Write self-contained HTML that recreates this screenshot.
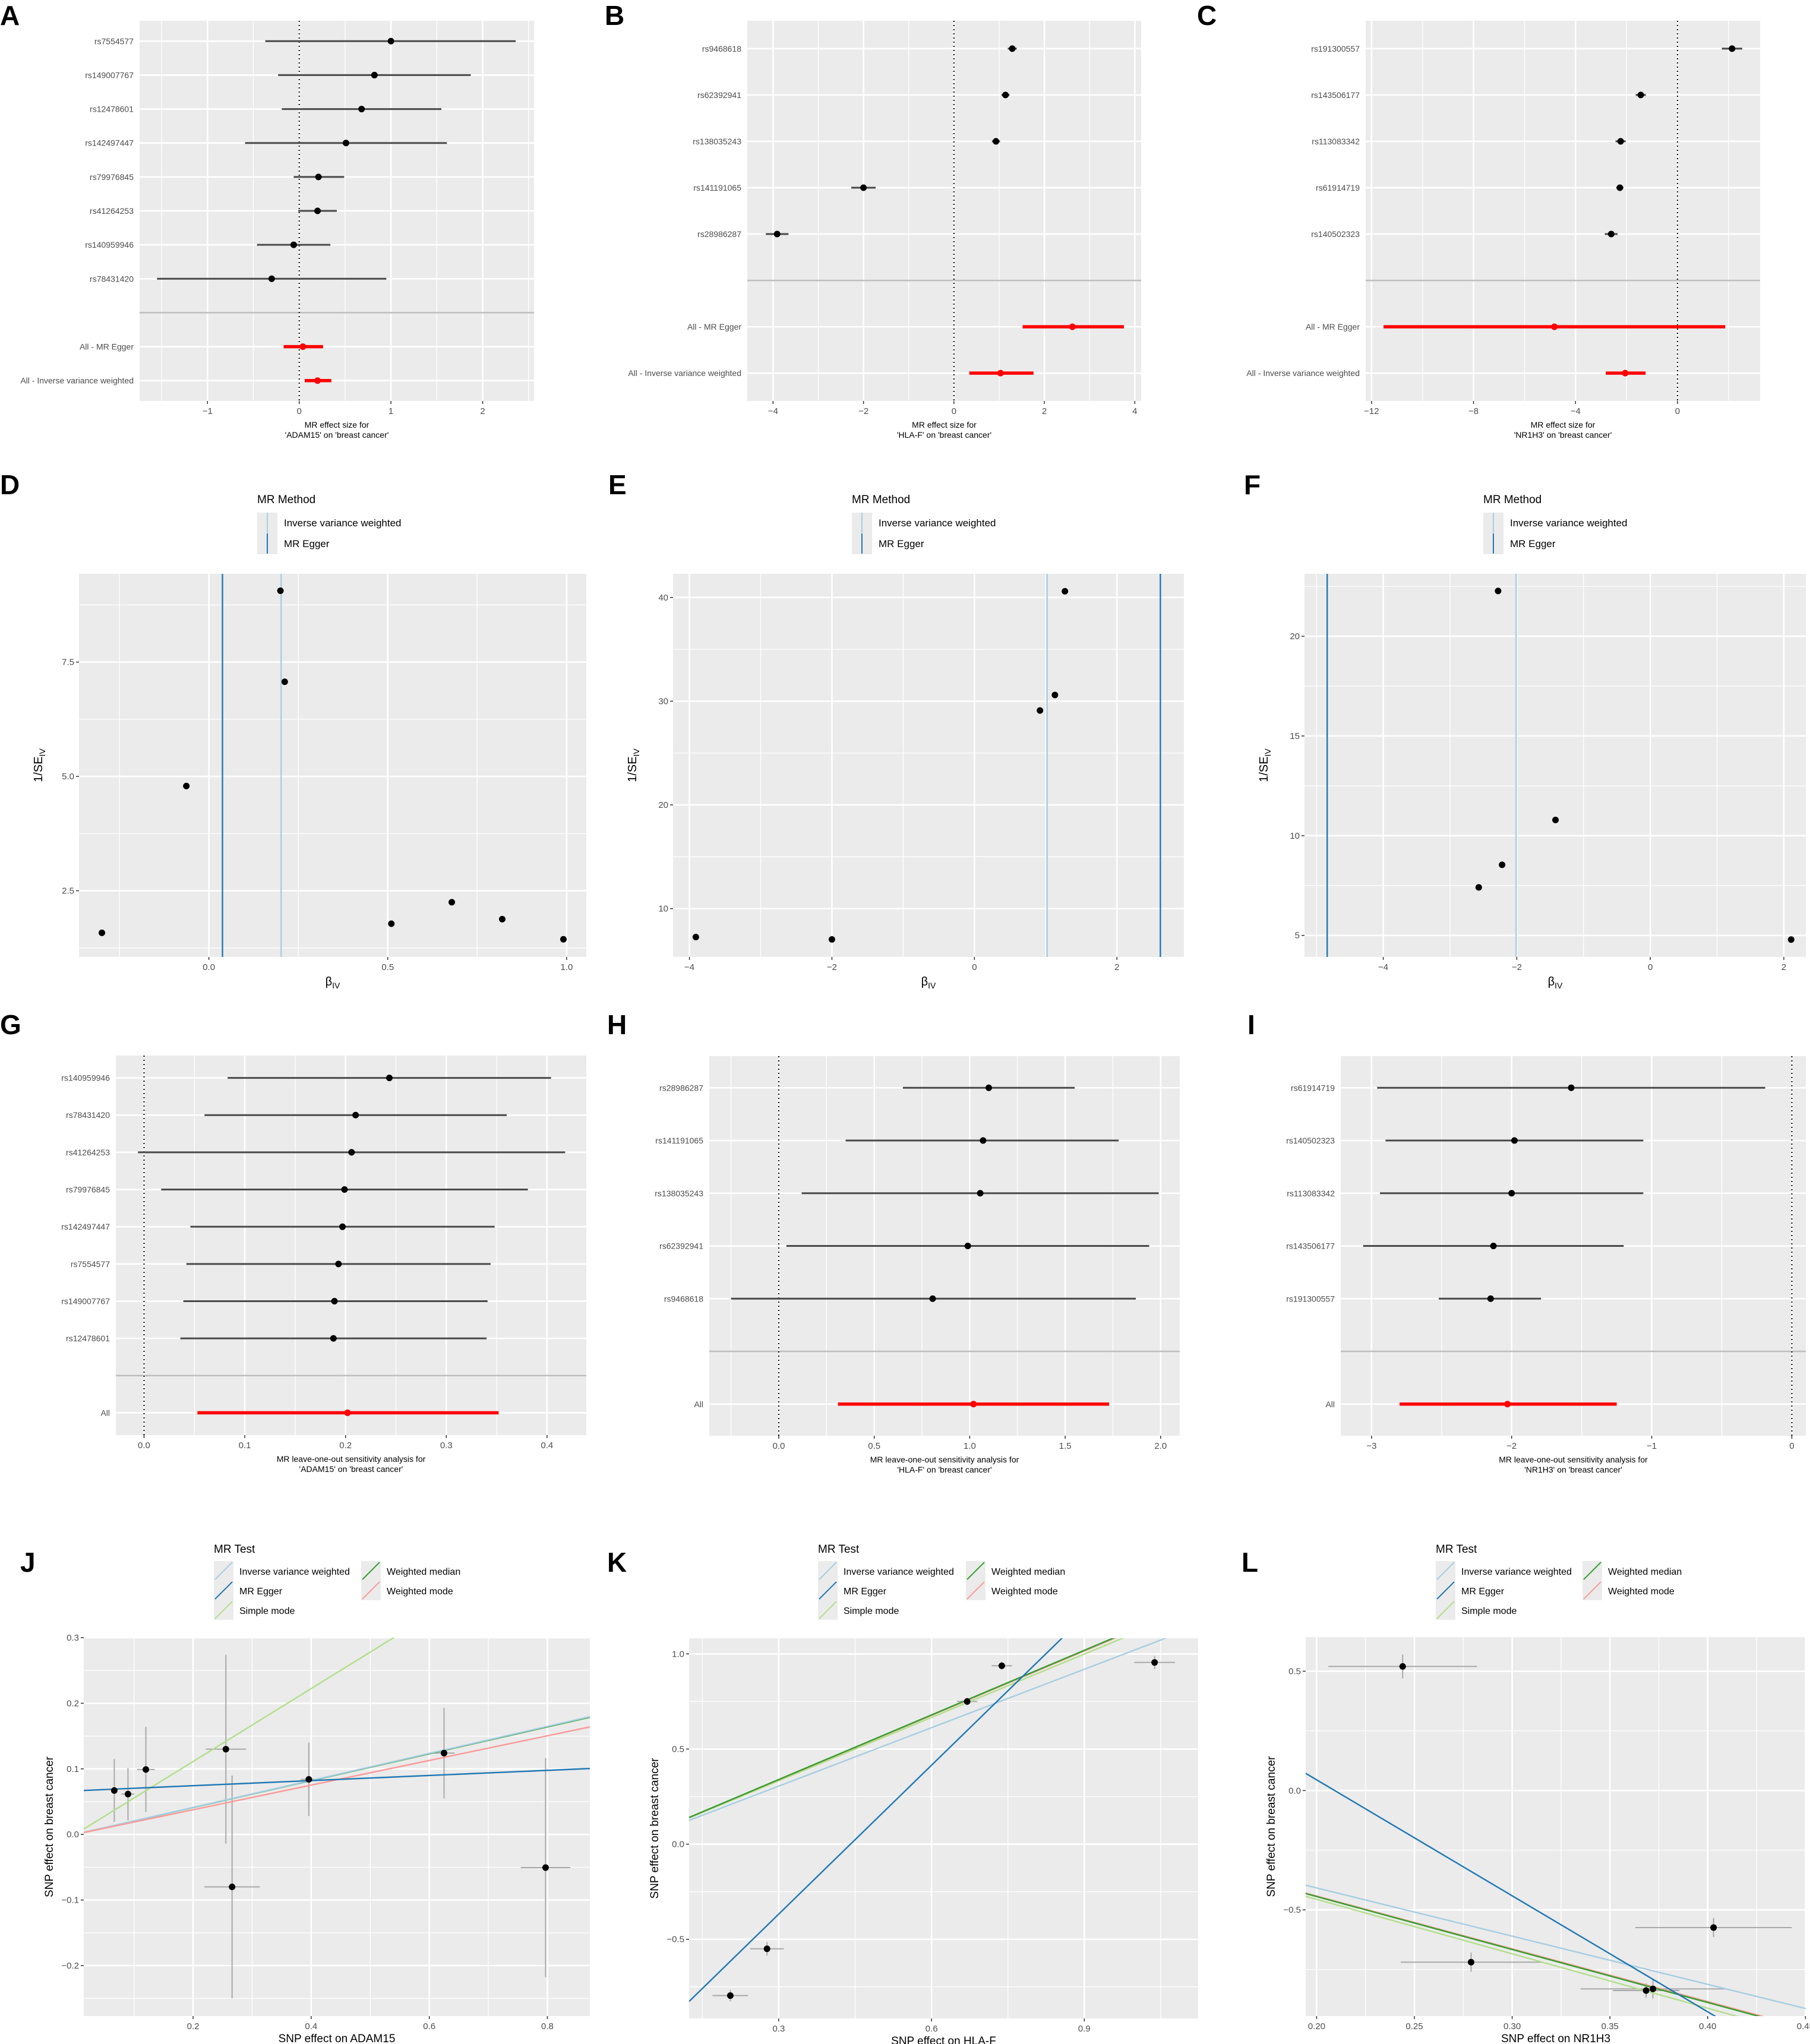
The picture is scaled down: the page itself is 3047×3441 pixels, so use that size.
<!DOCTYPE html>
<html><head><meta charset="utf-8"><style>
html,body{margin:0;padding:0;background:#fff;}
svg{display:block;font-family:"Liberation Sans",Arial,sans-serif;}
</style></head><body>
<svg id="fig" xmlns="http://www.w3.org/2000/svg" width="3047" height="3441" viewBox="0 0 3047 3441"></svg>
<script>
// ===== Panel A (forest, ADAM15) =====
const A_snps=["rs7554577","rs149007767","rs12478601","rs142497447","rs79976845","rs41264253","rs140959946","rs78431420"];
const A_est=[1.0,0.82,0.68,0.51,0.21,0.20,-0.06,-0.30];
const A_lo=[-0.37,-0.23,-0.19,-0.59,-0.06,-0.01,-0.46,-1.55];
const A_hi=[2.36,1.87,1.55,1.61,0.49,0.41,0.34,0.95];
const A_sumLabels=["All - MR Egger","All - Inverse variance weighted"];
const A_sumEst=[0.04,0.20];
const A_sumLo=[-0.17,0.06];
const A_sumHi=[0.26,0.35];
const A_ticks=[-1,0,1,2];
// ===== Panel B (forest, HLA-F) =====
const B_snps=["rs9468618","rs62392941","rs138035243","rs141191065","rs28986287"];
const B_est=[1.29,1.14,0.93,-2.0,-3.91];
const B_lo=[1.19,1.05,0.84,-2.27,-4.16];
const B_hi=[1.39,1.23,1.02,-1.73,-3.66];
const B_sumLabels=["All - MR Egger","All - Inverse variance weighted"];
const B_sumEst=[2.62,1.03];
const B_sumLo=[1.52,0.34];
const B_sumHi=[3.76,1.76];
const B_ticks=[-4,-2,0,2,4];
// ===== Panel C (forest, NR1H3) =====
const C_snps=["rs191300557","rs143506177","rs113083342","rs61914719","rs140502323"];
const C_est=[2.14,-1.44,-2.23,-2.26,-2.6];
const C_lo=[1.74,-1.64,-2.43,-2.4,-2.85];
const C_hi=[2.54,-1.24,-2.03,-2.12,-2.35];
const C_sumLabels=["All - MR Egger","All - Inverse variance weighted"];
const C_sumEst=[-4.83,-2.05];
const C_sumLo=[-11.53,-2.81];
const C_sumHi=[1.87,-1.25];
const C_ticks=[-12,-8,-4,0];
// ===== Panels D/E/F (funnel) =====
const D_beta=[-0.299,-0.063,0.20,0.212,0.51,0.679,0.82,0.991];
const D_invse=[1.58,4.79,9.06,7.07,1.78,2.25,1.88,1.44];
const D_lines=[0.202,0.038]; // IVW, Egger
const D_xticks=[0.0,0.5,1.0];
const D_yticks=[2.5,5.0,7.5];
const E_beta=[-3.91,-2.0,0.92,1.13,1.27];
const E_invse=[7.26,7.03,29.1,30.6,40.6];
const E_lines=[1.02,2.61];
const E_xticks=[-4,-2,0,2];
const E_yticks=[10,20,30,40];
const F_beta=[-2.28,-1.42,-2.22,-2.57,2.11];
const F_invse=[22.27,10.79,8.54,7.41,4.79];
const F_lines=[-2.01,-4.84];
const F_xticks=[-4,-2,0,2];
const F_yticks=[5,10,15,20];
// ===== Panels G/H/I (leave-one-out) =====
const G_snps=["rs140959946","rs78431420","rs41264253","rs79976845","rs142497447","rs7554577","rs149007767","rs12478601"];
const G_est=[0.2435,0.21,0.206,0.199,0.197,0.193,0.189,0.188];
const G_lo=[0.083,0.06,-0.006,0.017,0.046,0.042,0.039,0.036];
const G_hi=[0.404,0.36,0.418,0.381,0.348,0.344,0.341,0.340];
const G_all=[0.202,0.053,0.352];
const G_ticks=[0.0,0.1,0.2,0.3,0.4];
const H_snps=["rs28986287","rs141191065","rs138035243","rs62392941","rs9468618"];
const H_est=[1.10,1.07,1.055,0.99,0.806];
const H_lo=[0.65,0.35,0.12,0.04,-0.25];
const H_hi=[1.55,1.78,1.99,1.94,1.87];
const H_all=[1.02,0.31,1.73];
const H_ticks=[0.0,0.5,1.0,1.5,2.0];
const I_snps=["rs61914719","rs140502323","rs113083342","rs143506177","rs191300557"];
const I_est=[-1.575,-1.98,-2.00,-2.13,-2.15];
const I_lo=[-2.96,-2.90,-2.94,-3.06,-2.52];
const I_hi=[-0.19,-1.06,-1.06,-1.20,-1.79];
const I_all=[-2.03,-2.80,-1.25];
const I_ticks=[-3,-2,-1,0];
// ===== Panels J/K/L (scatter) =====
const methods=["Inverse variance weighted","MR Egger","Simple mode","Weighted median","Weighted mode"];
const J_bx=[0.0665,0.0897,0.12,0.2555,0.266,0.396,0.625,0.797];
const J_by=[0.067,0.0615,0.099,0.13,-0.080,0.084,0.124,-0.0506];
const J_bxse=[0.005,0.011,0.015,0.034,0.047,0.014,0.018,0.042];
const J_byse=[0.048,0.04,0.065,0.144,0.17,0.056,0.069,0.167];
const J_intercept=[0,0.0665,0,0,0];
const J_slope=[0.206,0.039,0.556,0.205,0.188];
const J_xticks=[0.2,0.4,0.6,0.8];
const J_yticks=[-0.2,-0.1,0.0,0.1,0.2,0.3];
const K_bx=[0.205,0.277,0.67,0.738,1.038];
const K_by=[-0.796,-0.55,0.75,0.9375,0.955];
const K_bxse=[0.035,0.033,0.02,0.02,0.04];
const K_byse=[0.03,0.035,0.02,0.02,0.035];
const K_intercept=[-0.002,-1.150,0,0,0];
const K_slope=[1.0235,2.608,1.11,1.132,1.128];
const K_xticks=[0.3,0.6,0.9];
const K_yticks=[-0.5,0.0,0.5,1.0];
const L_bx=[0.244,0.279,0.403,0.372,0.3685];
const L_by=[0.52,-0.719,-0.574,-0.831,-0.838];
const L_bxse=[0.038,0.036,0.04,0.037,0.017];
const L_byse=[0.05,0.04,0.04,0.04,0.03];
const L_intercept=[-0.004,1.017,0,0,0];
const L_slope=[-2.02,-4.86,-2.28,-2.22,-2.21];
const L_xticks=[0.20,0.25,0.30,0.35,0.40,0.45];
const L_yticks=[-0.5,0.0,0.5];

const NS="http://www.w3.org/2000/svg";
const svg=document.getElementById('fig');
const METHOD_COLORS=["#A6CEE3","#1F78B4","#B2DF8A","#33A02C","#FB9A99"];
function el(tag,attrs,parent,text){const e=document.createElementNS(NS,tag);for(const k in attrs)e.setAttribute(k,attrs[k]);if(text!==undefined)e.textContent=text;(parent||svg).appendChild(e);return e;}
function scale(d0,d1,r0,r1){return v=>r0+(v-d0)/(d1-d0)*(r1-r0);}
function fmt(v,dec){return (v<0?"\u2212":"")+Math.abs(v).toFixed(dec);}
function group(name){const g=el('g',{},svg);


return g;}
function panelLabel(t,x,y){const e=el('text',{x:x,y:y,'font-size':46,'font-weight':'bold',fill:'#000'},svg,t);

}
function bg(g,b){const r=el('rect',{x:b.x0,y:b.y0,width:b.x1-b.x0,height:b.y1-b.y0,fill:'#EBEBEB'},g);

}
function vgrid(g,b,sx,ticks,minor){
  minor.forEach(v=>{const x=sx(v);if(x>b.x0&&x<b.x1)el('line',{x1:x,x2:x,y1:b.y0,y2:b.y1,stroke:'#fff','stroke-width':1.3},g);});
  ticks.forEach(v=>{const x=sx(v);el('line',{x1:x,x2:x,y1:b.y0,y2:b.y1,stroke:'#fff','stroke-width':2.6},g);});
}
function hgrid(g,b,sy,ticks,minor){
  minor.forEach(v=>{const y=sy(v);if(y>b.y0&&y<b.y1)el('line',{x1:b.x0,x2:b.x1,y1:y,y2:y,stroke:'#fff','stroke-width':1.3},g);});
  ticks.forEach(v=>{const y=sy(v);el('line',{x1:b.x0,x2:b.x1,y1:y,y2:y,stroke:'#fff','stroke-width':2.6},g);});
}
function xTickLabels(g,b,sx,ticks,dec,fs){
  ticks.forEach(v=>{const x=sx(v);el('line',{x1:x,x2:x,y1:b.y1,y2:b.y1+5,stroke:'#333','stroke-width':1.5},g);
  const t=el('text',{x:x,y:b.y1+22,'font-size':fs||15,fill:'#4D4D4D','text-anchor':'middle'},g,fmt(v,dec));
  
  });
}
function yTickLabels(g,b,sy,ticks,dec,fs){
  ticks.forEach(v=>{const y=sy(v);el('line',{x1:b.x0-5,x2:b.x0,y1:y,y2:y,stroke:'#333','stroke-width':1.5},g);
  const t=el('text',{x:b.x0-8,y:y+5,'font-size':fs||15,fill:'#4D4D4D','text-anchor':'end'},g,fmt(v,dec));
  
  });
}
function minorOf(ticks,lo,hi){const st=ticks[1]-ticks[0];const out=[];for(let v=ticks[0]-st/2;v<=hi+1e-9;v+=st){if(v>=lo-1e-9)out.push(v);}return out;}

function forest(name,b,dom,ticks,dec,snps,est,lo,hi,sumLabels,sumEst,sumLo,sumHi,title1,title2){
  const g=group(name);
  const n=snps.length+1+sumLabels.length;
  const step=(b.y1-b.y0)/(n-1+1.2);
  const sy=i=>b.y0+(i+0.6)*step;
  const sx=scale(dom[0],dom[1],b.x0,b.x1);
  bg(g,b);
  vgrid(g,b,sx,ticks,minorOf(ticks,dom[0],dom[1]));
  const rowsAll=snps.length;
  for(let i=0;i<n;i++){if(i!==rowsAll)el('line',{x1:b.x0,x2:b.x1,y1:sy(i),y2:sy(i),stroke:'#fff','stroke-width':2.6},g);}
  el('line',{x1:b.x0,x2:b.x1,y1:sy(rowsAll),y2:sy(rowsAll),stroke:'#BEBEBE','stroke-width':2.5},g);
  el('line',{x1:sx(0),x2:sx(0),y1:b.y0,y2:b.y1,stroke:'#000','stroke-width':2,'stroke-dasharray':'2,5'},g);
  snps.forEach((s,i)=>{
    const y=sy(i);
    const l=el('line',{x1:sx(lo[i]),x2:sx(hi[i]),y1:y,y2:y,stroke:'#4a4a4a','stroke-width':3},g);
    
    
    const c=el('circle',{cx:sx(est[i]),cy:y,r:5.5,fill:'#000'},g);
    
    
    const t=el('text',{x:b.x0-10,y:y+5,'font-size':14,fill:'#4D4D4D','text-anchor':'end'},g,s);
    
    
  });
  sumLabels.forEach((s,j)=>{
    const y=sy(rowsAll+1+j);
    const l=el('line',{x1:sx(sumLo[j]),x2:sx(sumHi[j]),y1:y,y2:y,stroke:'#FF0000','stroke-width':5.5},g);
    
    
    const c=el('circle',{cx:sx(sumEst[j]),cy:y,r:5.5,fill:'#FF0000'},g);
    
    
    const t=el('text',{x:b.x0-10,y:y+5,'font-size':14,fill:'#4D4D4D','text-anchor':'end'},g,s);
    
    
  });
  xTickLabels(g,b,sx,ticks,dec);
  const cx=(b.x0+b.x1)/2;
  const t1=el('text',{x:cx,y:b.y1+45,'font-size':14,fill:'#000','text-anchor':'middle'},g,title1);
  
  
  const t2=el('text',{x:cx,y:b.y1+62,'font-size':14,fill:'#000','text-anchor':'middle'},g,title2);
  
  
}

function funnel(name,b,xd,yd,xticks,yticks,xdec,ydec,beta,invse,lines,legX){
  const g=group(name);
  const sx=scale(xd[0],xd[1],b.x0,b.x1), sy=scale(yd[0],yd[1],b.y1,b.y0);
  bg(g,b);
  vgrid(g,b,sx,xticks,minorOf(xticks,xd[0],xd[1]));
  hgrid(g,b,sy,yticks,minorOf(yticks,yd[0],yd[1]));
  lines.forEach((v,i)=>{const l=el('line',{x1:sx(v),x2:sx(v),y1:b.y0,y2:b.y1,stroke:METHOD_COLORS[i],'stroke-width':2.4},g);
    
    });
  beta.forEach((v,i)=>{const c=el('circle',{cx:sx(v),cy:sy(invse[i]),r:5.5,fill:'#000'},g);
    
    });
  xTickLabels(g,b,sx,xticks,xdec);
  yTickLabels(g,b,sy,yticks,ydec);
  const xt=el('text',{x:(b.x0+b.x1)/2,y:b.y1+48,'font-size':20,fill:'#000','text-anchor':'middle'},g);
  
  
  el('tspan',{},xt,'\u03B2');el('tspan',{dy:5,'font-size':14},xt,'IV');
  const cy=(b.y0+b.y1)/2, lx=b.x0-62;
  const yt=el('text',{x:lx,y:cy,'font-size':20,fill:'#000','text-anchor':'middle',transform:`rotate(-90 ${lx} ${cy})`},g);
  
  
  el('tspan',{},yt,'1/SE');el('tspan',{dy:5,'font-size':14},yt,'IV');
  const lg=el('g',{},g);
  
  
  el('text',{x:legX,y:b.y0-119,'font-size':19,fill:'#000'},lg,'MR Method');
  ['Inverse variance weighted','MR Egger'].forEach((m,i)=>{
    const yc=b.y0-86+i*35;
    el('rect',{x:legX,y:yc-17,width:34,height:35,fill:'#EBEBEB'},lg);
    el('line',{x1:legX+17,x2:legX+17,y1:yc-17,y2:yc+17,stroke:METHOD_COLORS[i],'stroke-width':2},lg);
    const t=el('text',{x:legX+45,y:yc+6,'font-size':17,fill:'#000'},lg,m);
    
    
  });
}

function loo(name,b,dom,ticks,dec,snps,est,lo,hi,all,title2){
  forest(name,b,dom,ticks,dec,snps,est,lo,hi,["All"],[all[0]],[all[1]],[all[2]],"MR leave-one-out sensitivity analysis for",title2);
}

function scatter(name,b,xd,yd,xticks,yticks,xdec,ydec,bx,by,bxse,byse,ints,slopes,xtitle,legX,legX2,order){
  const g=group(name);
  const sx=scale(xd[0],xd[1],b.x0,b.x1), sy=scale(yd[0],yd[1],b.y1,b.y0);
  bg(g,b);
  vgrid(g,b,sx,xticks,minorOf(xticks,xd[0],xd[1]));
  hgrid(g,b,sy,yticks,minorOf(yticks,yd[0],yd[1]));
  bx.forEach((v,i)=>{
    el('line',{x1:sx(v-bxse[i]),x2:sx(v+bxse[i]),y1:sy(by[i]),y2:sy(by[i]),stroke:'#A9A9A9','stroke-width':2},g);
    el('line',{x1:sx(v),x2:sx(v),y1:sy(by[i]-byse[i]),y2:sy(by[i]+byse[i]),stroke:'#A9A9A9','stroke-width':2},g);
  });
  const cp=el('clipPath',{id:'clip-'+name},g);
  el('rect',{x:b.x0,y:b.y0,width:b.x1-b.x0,height:b.y1-b.y0},cp);
  order.forEach(i=>{
    const l=el('line',{x1:sx(xd[0]),y1:sy(ints[i]+slopes[i]*xd[0]),x2:sx(xd[1]),y2:sy(ints[i]+slopes[i]*xd[1]),stroke:METHOD_COLORS[i],'stroke-width':2.4,'clip-path':`url(#clip-${name})`},g);
    
    
  });
  bx.forEach((v,i)=>{const c=el('circle',{cx:sx(v),cy:sy(by[i]),r:5.5,fill:'#000'},g);
    
    });
  xTickLabels(g,b,sx,xticks,xdec);
  yTickLabels(g,b,sy,yticks,ydec);
  const xt=el('text',{x:(b.x0+b.x1)/2,y:b.y1+44,'font-size':19,fill:'#000','text-anchor':'middle'},g,xtitle);
  
  
  const cy=(b.y0+b.y1)/2, lx=b.x0-52;
  const yt=el('text',{x:lx,y:cy,'font-size':19,fill:'#000','text-anchor':'middle',transform:`rotate(-90 ${lx} ${cy})`},g,'SNP effect on breast cancer');
  
  
  const lg=el('g',{},g);
  
  
  el('text',{x:legX,y:2614,'font-size':19,fill:'#000'},lg,'MR Test');
  const pos=[[legX,0],[legX,1],[legX,2],[legX2,0],[legX2,1]];
  methods.forEach((m,i)=>{
    const kx=pos[i][0], ky=2628+pos[i][1]*33;
    el('rect',{x:kx,y:ky,width:33,height:33,fill:'#EBEBEB'},lg);
    el('line',{x1:kx+2,y1:ky+31,x2:kx+31,y2:ky+2,stroke:METHOD_COLORS[i],'stroke-width':2},lg);
    const t=el('text',{x:kx+43,y:ky+23,'font-size':16,fill:'#000'},lg,m);
    
    
  });
}

forest('panel-a',{x0:235,x1:899,y0:35,y1:675},[-1.74,2.56],A_ticks,0,A_snps,A_est,A_lo,A_hi,A_sumLabels,A_sumEst,A_sumLo,A_sumHi,"MR effect size for","'ADAM15' on 'breast cancer'");
forest('panel-b',{x0:1258,x1:1921,y0:35,y1:675},[-4.57,4.14],B_ticks,0,B_snps,B_est,B_lo,B_hi,B_sumLabels,B_sumEst,B_sumLo,B_sumHi,"MR effect size for","'HLA-F' on 'breast cancer'");
forest('panel-c',{x0:2299,x1:2963,y0:35,y1:675},[-12.23,3.24],C_ticks,0,C_snps,C_est,C_lo,C_hi,C_sumLabels,C_sumEst,C_sumLo,C_sumHi,"MR effect size for","'NR1H3' on 'breast cancer'");

funnel('panel-d',{x0:133,x1:987,y0:966,y1:1611},[-0.363,1.055],[1.053,9.43],D_xticks,D_yticks,1,1,D_beta,D_invse,D_lines,433);
funnel('panel-e',{x0:1133,x1:1993,y0:966,y1:1611},[-4.23,2.94],[5.34,42.28],E_xticks,E_yticks,0,0,E_beta,E_invse,E_lines,1434);
funnel('panel-f',{x0:2196,x1:3040,y0:966,y1:1611},[-5.18,2.33],[3.92,23.13],F_xticks,F_yticks,0,0,F_beta,F_invse,F_lines,2497);

loo('panel-g',{x0:195,x1:987,y0:1777,y1:2416},[-0.028,0.439],G_ticks,1,G_snps,G_est,G_lo,G_hi,G_all,"'ADAM15' on 'breast cancer'");
loo('panel-h',{x0:1194,x1:1986,y0:1778,y1:2417},[-0.364,2.10],H_ticks,1,H_snps,H_est,H_lo,H_hi,H_all,"'HLA-F' on 'breast cancer'");
loo('panel-i',{x0:2257,x1:3040,y0:1778,y1:2417},[-3.22,0.10],I_ticks,0,I_snps,I_est,I_lo,I_hi,I_all,"'NR1H3' on 'breast cancer'");

scatter('panel-j',{x0:141,x1:993,y0:2757,y1:3394},[0.0148,0.872],[-0.277,0.30],J_xticks,J_yticks,1,1,J_bx,J_by,J_bxse,J_byse,J_intercept,J_slope,'SNP effect on ADAM15',360,608,[3,0,2,4,1]);
scatter('panel-k',{x0:1160,x1:2017,y0:2758,y1:3398},[0.124,1.1235],[-0.916,1.082],K_xticks,K_yticks,1,1,K_bx,K_by,K_bxse,K_byse,K_intercept,K_slope,'SNP effect on HLA-F',1377,1626,[0,2,4,3,1]);
scatter('panel-l',{x0:2198,x1:3040,y0:2756,y1:3394},[0.1944,0.4502],[-0.945,0.643],L_xticks,L_yticks,2,1,L_bx,L_by,L_bxse,L_byse,L_intercept,L_slope,'SNP effect on NR1H3',2417,2664,[0,2,4,3,1]);

panelLabel('A',0,42);panelLabel('B',1018,42);panelLabel('C',2015,42);
panelLabel('D',0,832);panelLabel('E',1024,832);panelLabel('F',2094,832);
panelLabel('G',0,1741);panelLabel('H',1022,1741);panelLabel('I',2100,1741);
panelLabel('J',34,2646);panelLabel('K',1022,2646);panelLabel('L',2090,2646);
</script>
</body></html>
